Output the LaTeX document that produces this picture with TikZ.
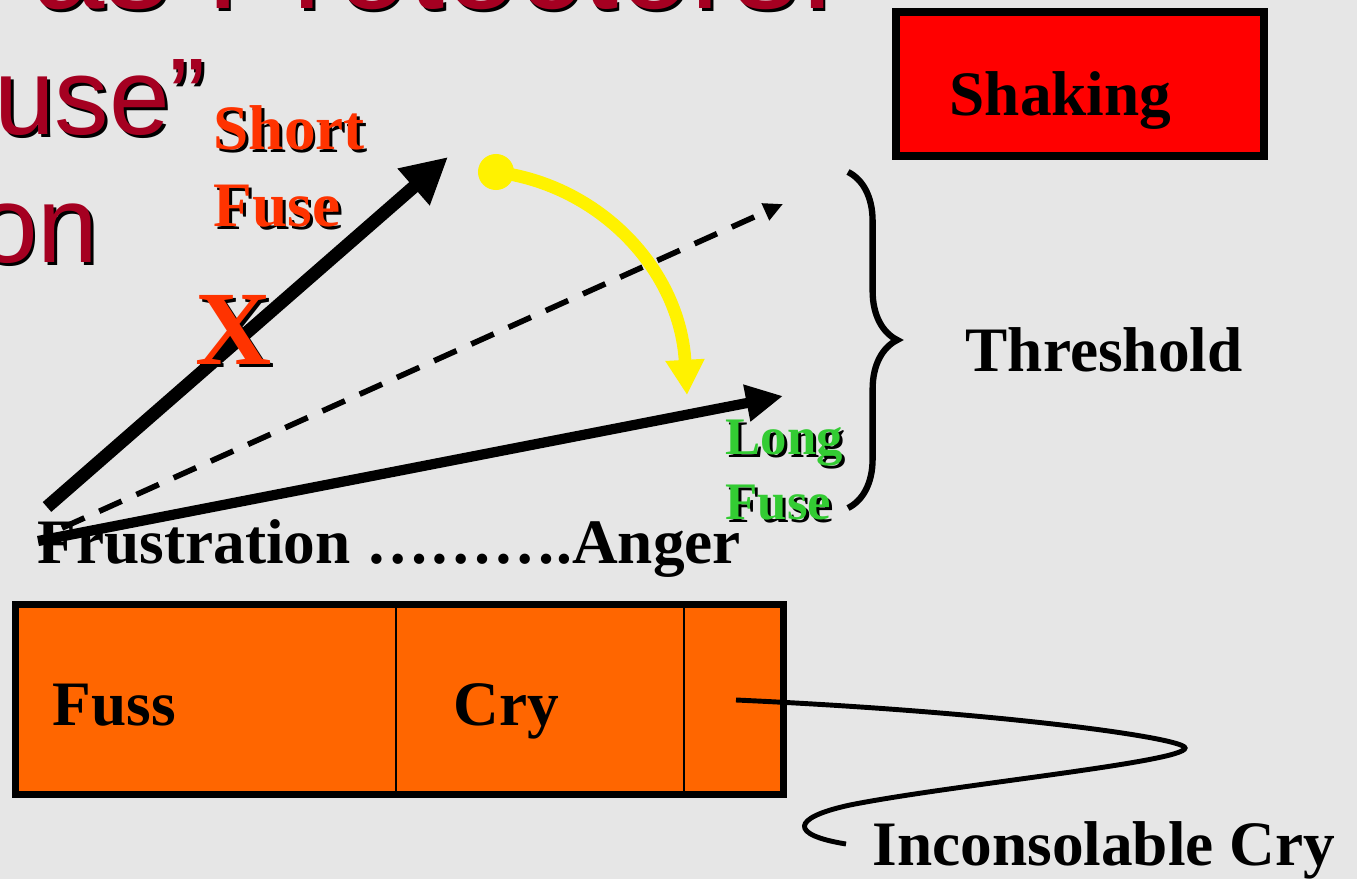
\documentclass[tikz,border=0pt]{standalone}
\usepackage{fontspec}
\setmainfont{Liberation Serif}
\newfontfamily\slidesans{Liberation Sans}
\usetikzlibrary{arrows.meta,decorations.pathreplacing}
\definecolor{slidegray}{HTML}{E6E6E6}
\definecolor{slidered}{HTML}{A50021}
\definecolor{fusered}{HTML}{FF3300}
\definecolor{fusegreen}{HTML}{33CC33}
\definecolor{fussorange}{HTML}{FF6600}
% text with a black drop shadow: style, position, name, text
\newcommand{\shtext}[4]{\node[#1,text=black,xshift=0.028cm,yshift=-0.028cm] at (#2) {#4};
  \node[#1] (#3) at (#2) {#4};}
\begin{document}
\begin{tikzpicture}[x=0.01cm,y=-0.01cm,inner sep=0pt,
  slide/.style={text=slidered,font=\slidesans\fontsize{31}{34}\selectfont,anchor=base east},
  lbl/.style={font=\fontsize{18}{22}\selectfont\bfseries,anchor=base west},
  fuse/.style={lbl,align=left,anchor=north west}]
\useasboundingbox[fill=slidegray] (0,0) rectangle (1357,879);
% slide text, cut by the crop
\shtext{slide,font=\slidesans\fontsize{37}{40}\selectfont}{836,9}{title}{as Protectors:}
\shtext{slide}{207,135}{usel}{use”}
\shtext{slide}{99,263}{onl}{on}
% boxes
\node[draw,line width=2.3pt,fill=red,minimum width=3.68cm,minimum height=1.44cm] (shakebox) at (1080,84) {};
\node[lbl] (shaking) at (949,116) {Shaking};
\node[draw,line width=1.9pt,fill=fussorange,minimum width=7.68cm,minimum height=1.9cm] (bar) at (399.5,699.5) {};
\draw[line width=0.6pt] (bar.north west) ++(384.5,0) -- +(0,190);
\draw[line width=0.6pt] (bar.north west) ++(672.5,0) -- +(0,190);
\node[lbl] (fuss) at (52,725) {Fuss};
\node[lbl] (cry) at (453,725) {Cry};
% labels
\node[lbl] (frust) at (37,563) {Frustration ……….Anger};
\node[lbl] (thresh) at (965,372) {Threshold};
\node[lbl] (incons) at (872,865) {Inconsolable Cry};
\shtext{fuse,text=fusered}{213,105}{shortl}{Short\\Fuse}
\shtext{fuse,text=fusegreen,font=\fontsize{15}{18.5}\selectfont\bfseries}{725,419}{longl}{Long\\Fuse}
% arrows
\coordinate (ss) at (47,507);
\coordinate (st) at (448,157);
\coordinate (ls) at (38,541);
\coordinate (lt) at (783,396);
\coordinate (ds) at (62,528);
\coordinate (dt) at (783,204);
\coordinate (yt) at (687,395);
\draw[line width=3.7pt,-{Triangle[length=13pt,width=13pt]}] (ss) -- (st);
\draw[line width=2.9pt,-{Triangle[length=10.5pt,width=10pt]}] (ls) -- (lt);
\draw[line width=1.6pt,dash pattern=on 7pt off 4.6pt,-{Triangle[length=5.5pt,width=5pt]}] (ds) -- (dt);
\node[circle,fill=yellow,minimum size=0.36cm] (dot) at (496,172) {};
\draw[yellow,line width=3.6pt,-{Triangle[length=10pt,width=10.5pt]}] (dot.center) .. controls (600,185) and (680,270) .. (yt);
\shtext{lbl,anchor=base,text=fusered,font=\fontsize{30}{30}\selectfont\bfseries}{234,365}{xmark}{X}
% threshold brace
\draw[line width=1.8pt,decorate,decoration={brace,amplitude=14pt}] (848,172) -- (848,508);
% pointer to inconsolable cry
\coordinate (ics) at (736,700);
\coordinate (ice) at (846,844);
\draw[line width=1.4pt] (ics) .. controls (1000,712) and (1185,738) .. (1185,748)
  .. controls (1185,762) and (950,785) .. (850,805) .. controls (790,818) and (790,835) .. (ice);
\end{tikzpicture}
\end{document}
